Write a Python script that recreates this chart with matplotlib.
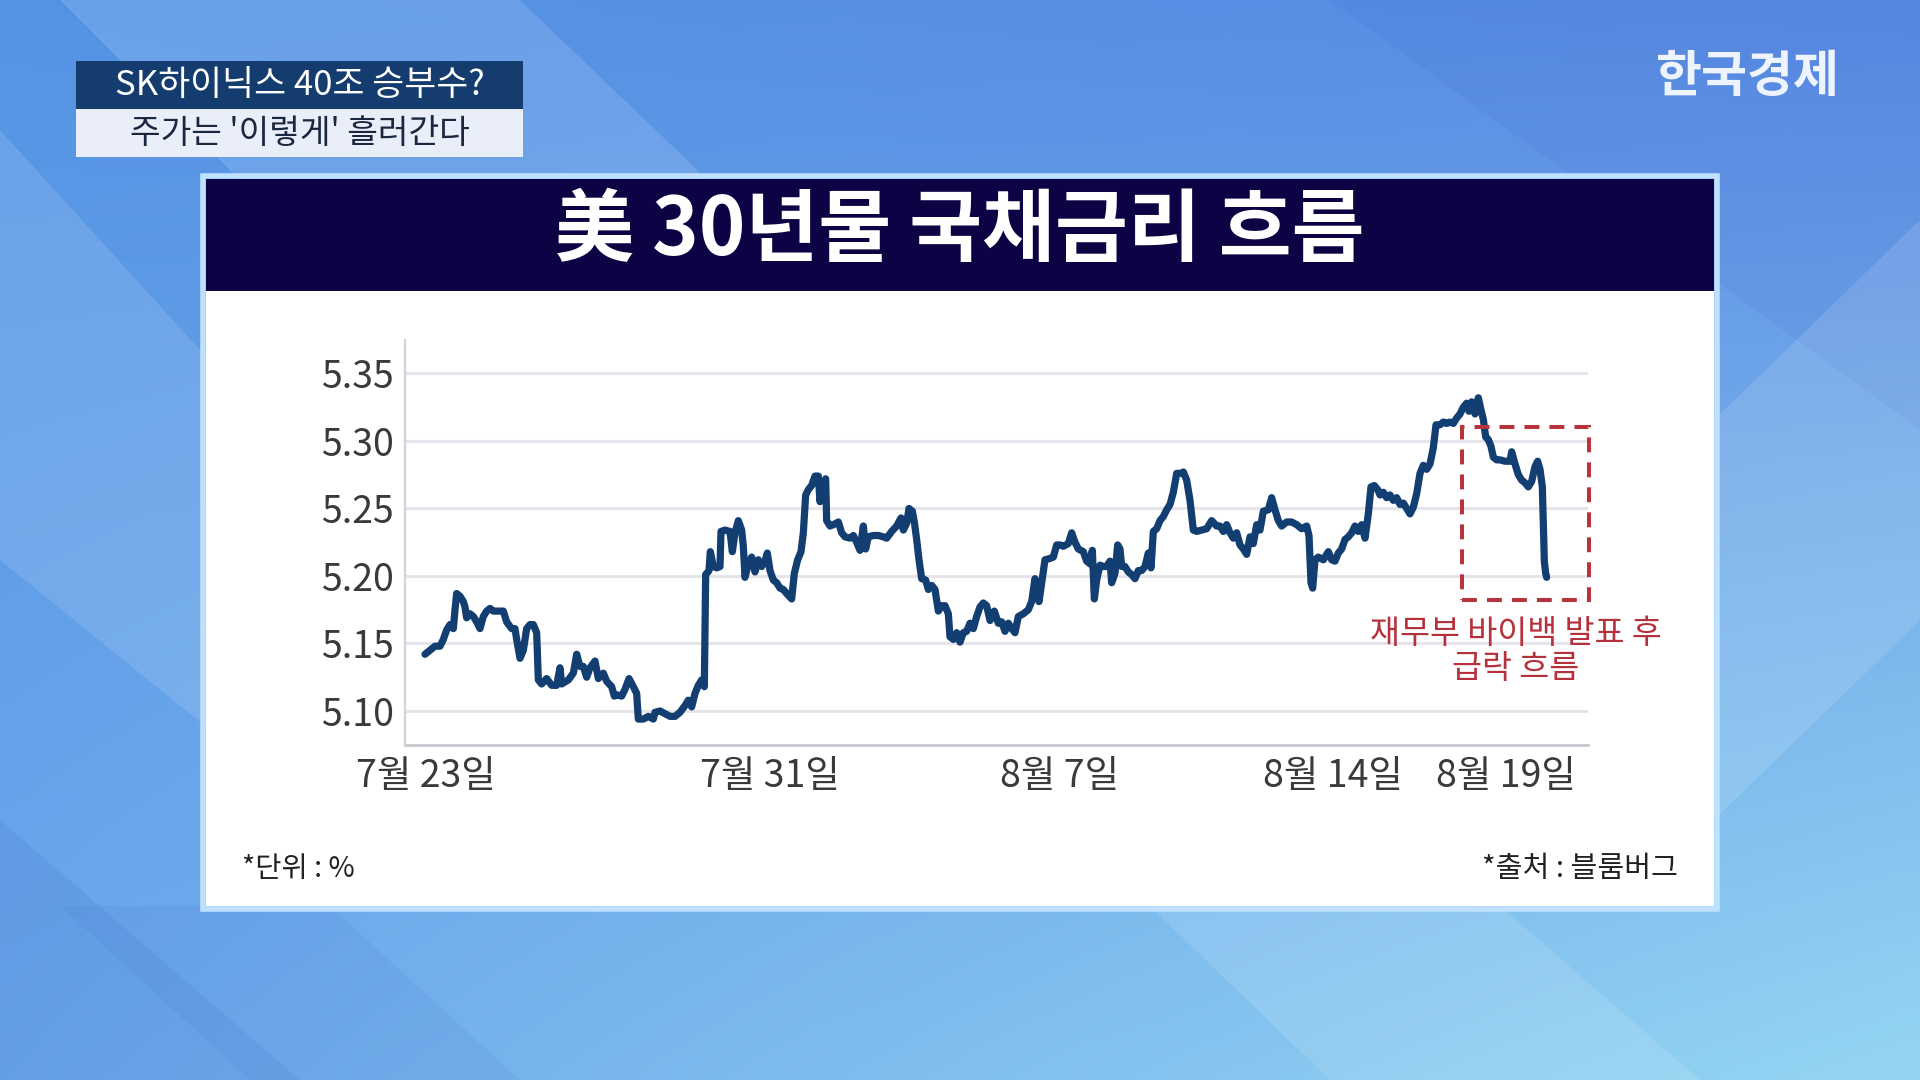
import matplotlib.pyplot as plt
import numpy as np
from matplotlib.patches import Rectangle, Polygon

plt.rcParams['font.family'] = ['Noto Sans CJK KR', 'DejaVu Sans']

# intraday time index (~8 min steps from 7/23 open) and 30y UST yield (%)
t_idx = [
    0, 15, 30, 45, 55, 65, 75, 85, 90, 95, 105, 115, 120, 125, 135, 145, 155, 165, 175, 185,
    195, 205, 220, 235, 245, 260, 270, 275, 285, 295, 305, 315, 325, 335, 340, 350, 365, 380, 395, 405,
    410, 430, 445, 455, 465, 475, 485, 495, 510, 520, 535, 545, 560, 568,
    575, 590, 600, 612, 625, 635, 640, 655, 670, 685, 690, 705, 720, 735, 750, 765, 780, 790, 800, 810,
    820, 830, 838, 840, 842, 852, 856, 865, 875, 885, 888, 900, 915, 922, 930, 940, 950, 955, 960, 970,
    980, 990, 1000, 1010, 1020, 1027, 1035, 1045, 1055, 1065, 1075, 1085, 1100, 1108, 1118, 1128,
    1135, 1142, 1150, 1160, 1170, 1180, 1185, 1192, 1202, 1205, 1215, 1225, 1240, 1250, 1260, 1275, 1285, 1295, 1305, 1315,
    1322, 1330, 1345, 1360, 1375, 1385, 1400, 1415, 1428, 1435, 1445, 1452, 1462, 1468, 1475, 1482, 1490, 1502, 1510, 1520,
    1530, 1540, 1550, 1560, 1570, 1575, 1585, 1595, 1605, 1615, 1625, 1635, 1645, 1655, 1665, 1675, 1685, 1695, 1708,
    1720, 1730, 1740, 1750, 1760, 1770, 1780, 1795, 1810, 1820, 1830, 1835, 1842, 1850, 1860, 1875, 1885, 1895, 1905, 1915,
    1930, 1940, 1950, 1960, 1975, 1985, 1995, 2002, 2008, 2015, 2025, 2035, 2045, 2055, 2060, 2070, 2078, 2085, 2090, 2100,
    2110, 2120, 2130, 2140, 2150, 2160, 2170, 2178, 2185, 2195, 2205, 2215, 2225, 2235, 2245, 2255, 2270,
    2275, 2285, 2295, 2305, 2315, 2330, 2345, 2360, 2375, 2385, 2395, 2405, 2415, 2425, 2435, 2445, 2455, 2465, 2475, 2485,
    2495, 2505, 2515, 2530, 2540, 2550, 2560, 2570, 2585, 2600, 2615, 2630, 2645, 2652, 2658, 2663, 2670, 2680, 2695, 2710,
    2720, 2730, 2740, 2750, 2760, 2770, 2780, 2790, 2800, 2810,
    2820, 2830, 2838, 2848, 2858, 2865, 2875, 2885, 2895, 2905, 2915, 2925, 2935, 2945, 2955, 2965, 2975, 2985, 2995, 3005,
    3015, 3025, 3033, 3045, 3055, 3065, 3075, 3085, 3095, 3105, 3115, 3125, 3132, 3140, 3150, 3160, 3168, 3175, 3182, 3190,
    3198, 3205, 3215, 3225, 3240, 3255, 3260, 3270, 3280, 3290, 3300, 3310, 3320, 3330, 3338, 3345, 3352, 3355, 3358, 3362,
    3365,
]
yld = [
    5.142, 5.145, 5.148, 5.148, 5.153, 5.160, 5.164, 5.161, 5.175, 5.187, 5.185, 5.181, 5.177, 5.169, 5.172, 5.170, 5.166, 5.161, 5.170, 5.174,
    5.176, 5.174, 5.174, 5.174, 5.166, 5.161, 5.161, 5.153, 5.139, 5.145, 5.161, 5.164, 5.164, 5.158, 5.123, 5.120, 5.124, 5.119, 5.119, 5.132,
    5.120, 5.123, 5.128, 5.142, 5.133, 5.133, 5.125, 5.132, 5.137, 5.124, 5.128, 5.122, 5.118, 5.111,
    5.112, 5.111, 5.116, 5.124, 5.118, 5.113, 5.094, 5.094, 5.096, 5.094, 5.099, 5.100, 5.098, 5.096, 5.096, 5.099, 5.104, 5.108, 5.103, 5.113,
    5.119, 5.123, 5.118, 5.162, 5.201, 5.204, 5.218, 5.207, 5.206, 5.207, 5.233, 5.234, 5.233, 5.218, 5.232, 5.241, 5.234, 5.222, 5.199, 5.209,
    5.214, 5.203, 5.212, 5.207, 5.211, 5.217, 5.204, 5.197, 5.195, 5.191, 5.190, 5.187, 5.183, 5.202, 5.212, 5.218,
    5.232, 5.260, 5.264, 5.267, 5.274, 5.274, 5.255, 5.266, 5.272, 5.241, 5.237, 5.238, 5.240, 5.232, 5.229, 5.228, 5.230, 5.225, 5.219, 5.237,
    5.220, 5.229, 5.230, 5.230, 5.229, 5.228, 5.233, 5.237, 5.243, 5.234, 5.239, 5.250, 5.248, 5.240, 5.227, 5.212, 5.198, 5.197, 5.190, 5.193,
    5.190, 5.174, 5.178, 5.178, 5.172, 5.155, 5.153, 5.158, 5.151, 5.158, 5.159, 5.165, 5.161, 5.170, 5.177, 5.180, 5.178, 5.167, 5.174,
    5.165, 5.166, 5.159, 5.165, 5.161, 5.158, 5.170, 5.172, 5.175, 5.181, 5.198, 5.187, 5.181, 5.195, 5.212, 5.213, 5.214, 5.223, 5.223, 5.222,
    5.224, 5.232, 5.225, 5.220, 5.218, 5.211, 5.209, 5.219, 5.183, 5.197, 5.208, 5.207, 5.207, 5.211, 5.195, 5.202, 5.223, 5.220, 5.207, 5.207,
    5.203, 5.201, 5.198, 5.204, 5.204, 5.207, 5.217, 5.206, 5.233, 5.235, 5.241, 5.244, 5.249, 5.253, 5.262, 5.276, 5.276,
    5.277, 5.271, 5.256, 5.234, 5.233, 5.234, 5.235, 5.241, 5.237, 5.237, 5.233, 5.238, 5.232, 5.228, 5.232, 5.223, 5.220, 5.216, 5.229, 5.224,
    5.238, 5.234, 5.248, 5.249, 5.258, 5.249, 5.241, 5.237, 5.240, 5.240, 5.238, 5.235, 5.237, 5.230, 5.195, 5.191, 5.212, 5.214, 5.212, 5.218,
    5.212, 5.211, 5.217, 5.220, 5.227, 5.229, 5.232, 5.237, 5.233, 5.238,
    5.228, 5.246, 5.266, 5.267, 5.264, 5.260, 5.262, 5.258, 5.260, 5.256, 5.258, 5.253, 5.254, 5.250, 5.246, 5.251, 5.261, 5.276, 5.282, 5.279,
    5.283, 5.295, 5.312, 5.312, 5.314, 5.313, 5.314, 5.313, 5.317, 5.320, 5.325, 5.328, 5.322, 5.329, 5.320, 5.332, 5.323, 5.316, 5.303, 5.301,
    5.296, 5.288, 5.286, 5.286, 5.285, 5.285, 5.292, 5.283, 5.275, 5.271, 5.269, 5.266, 5.270, 5.281, 5.285, 5.279, 5.266, 5.237, 5.211, 5.202,
    5.199,
]

tick_pos = [3, 1035, 1905, 2724, 3243]
tick_lbl = ['7월 23일', '7월 31일', '8월 7일', '8월 14일', '8월 19일']
y_ticks = [5.10, 5.15, 5.20, 5.25, 5.30, 5.35]

# highlighted window after the buyback news
box_t = (3111, 3492)
box_y = (5.182, 5.310)

fig = plt.figure(figsize=(19.2, 10.8), dpi=100)

# background layer in pixel coords
bg = fig.add_axes([0, 0, 1, 1], zorder=0)
bg.set_xlim(0, 1920)
bg.set_ylim(1080, 0)
bg.axis('off')

tl = np.array([84, 148, 228]) / 255
tr = np.array([90, 138, 228]) / 255
bl = np.array([108, 168, 236]) / 255
br = np.array([148, 214, 242]) / 255
gy, gx = np.mgrid[0:1:108j, 0:1:192j]
grad = ((1 - gx) * (1 - gy))[..., None] * tl + (gx * (1 - gy))[..., None] * tr \
    + ((1 - gx) * gy)[..., None] * bl + (gx * gy)[..., None] * br
bg.imshow(grad, extent=(0, 1920, 1080, 0), aspect='auto', interpolation='bicubic')

# diagonal bands
bands = [
    ([(60, 0), (520, 0), (1250, 700), (760, 700)], 'white', 0.13),
    ([(0, 130), (0, 560), (420, 900), (700, 900)], 'white', 0.12),
    ([(0, 820), (0, 1080), (300, 1080)], '#2f5fb8', 0.12),
    ([(1330, 0), (1920, 0), (1920, 430)], '#3a62c8', 0.10),
    ([(1714, 420), (1920, 220), (1920, 620), (1714, 820)], 'white', 0.12),
    ([(1150, 906), (1500, 906), (1700, 1080), (1330, 1080)], 'white', 0.12),
    ([(60, 906), (330, 906), (520, 1080), (250, 1080)], '#3a6cc4', 0.10),
]
for pts, col, a in bands:
    bg.add_patch(Polygon(pts, closed=True, fc=col, ec='none', alpha=a))

# caption boxes
bg.add_patch(Rectangle((76, 61), 447, 48, fc='#143c6e', ec='none'))
bg.add_patch(Rectangle((76, 109), 447, 48, fc='#e9eef8', ec='none'))
bg.text(300, 86, 'SK하이닉스 40조 승부수?', color='white', fontsize=25,
        ha='center', va='center', fontweight='medium')
bg.text(300, 133, "주가는 '이렇게' 흘러간다", color='#1b2740', fontsize=24,
        ha='center', va='center', fontweight='medium')
bg.text(1748, 77, '한국경제', color='#eef4fd', fontsize=36, fontweight='bold',
        ha='center', va='center')

# panel
bg.add_patch(Rectangle((203, 176), 1514, 733, fc='none', ec='#bfe0ff', lw=4))
bg.add_patch(Rectangle((206, 179), 1508, 727, fc='white', ec='none'))
bg.add_patch(Rectangle((206, 179), 1508, 112, fc='#0c0244', ec='none'))
bg.text(960, 232, '美 30년물 국채금리 흐름', color='white', fontsize=57,
        fontweight='black', ha='center', va='center')
bg.text(242, 869, '*단위 : %', color='#222222', fontsize=20.5, fontweight='medium',
        ha='left', va='center')
bg.text(1678, 869, '*출처 : 블룸버그', color='#222222', fontsize=21, fontweight='medium',
        ha='right', va='center')

# chart
ax = fig.add_axes([405 / 1920, 1 - 745 / 1080, (1588 - 405) / 1920, (745 - 340) / 1080], zorder=1)
ax.patch.set_alpha(0)
ax.plot(t_idx, yld, color='#133e72', lw=5.2, solid_joinstyle='round', solid_capstyle='round', zorder=3)

ax.set_xlim(-60, 3489)
ax.set_ylim(5.0748, 5.3748)
ax.set_yticks(y_ticks)
ax.set_yticklabels([f'{v:.2f}' for v in y_ticks])
ax.set_xticks(tick_pos)
ax.set_xticklabels(tick_lbl)
ax.yaxis.grid(True, color='#e4e4ea', lw=2.2)
ax.set_axisbelow(True)
ax.tick_params(axis='both', length=0, labelsize=27, labelcolor='#3a3a3a')
ax.tick_params(axis='y', pad=8)
ax.tick_params(axis='x', pad=9)
for s in ['top', 'right']:
    ax.spines[s].set_visible(False)
ax.spines['left'].set_color('#d2d2d8')
ax.spines['left'].set_linewidth(1.6)
ax.spines['bottom'].set_color('#c8c8ce')
ax.spines['bottom'].set_linewidth(2)

ax.add_patch(Rectangle((box_t[0], box_y[0]), box_t[1] - box_t[0], box_y[1] - box_y[0],
                       fill=False, ec='#b8343c', lw=2.9, ls=(0, (3.7, 2.5)), clip_on=False, zorder=4))
ax.text(3273, 5.144, '재무부 바이백 발표 후\n급락 흐름', color='#b5323c', fontsize=23.5,
        ha='center', va='center', linespacing=1.1)

fig.savefig('out.png', dpi=100)
